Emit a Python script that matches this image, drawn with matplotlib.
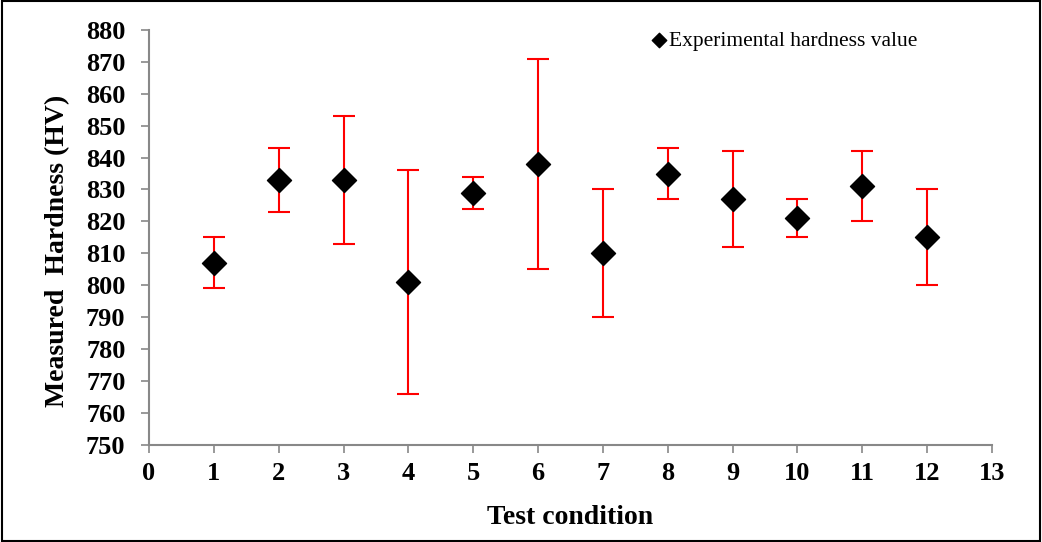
import matplotlib.pyplot as plt
import numpy as np
from matplotlib.patches import Rectangle

# Datos
condicion = [1, 2, 3, 4, 5, 6, 7, 8, 9, 10, 11, 12]
dureza = [807, 833, 833, 801, 829, 838, 810, 835, 827, 821, 831, 815]
error = [8, 10, 20, 35, 5, 33, 20, 8, 15, 6, 11, 15]

plt.rcParams['font.family'] = ['Liberation Serif', 'DejaVu Serif']

fig = plt.figure(figsize=(10.42, 5.42), dpi=100)
ax = fig.add_axes([0.143, 0.179, 0.809, 0.766])

ax.errorbar(condicion, dureza, yerr=error, fmt='none', ecolor='#ff0000',
            elinewidth=1.5, capsize=8, capthick=1.5, zorder=2)
ax.scatter(condicion, dureza, marker='D', s=150, color='black', zorder=3,
           label='Experimental hardness value')

ax.set_xlim(0, 13)
ax.set_ylim(750, 880)
ax.set_xticks(np.arange(0, 14, 1))
ax.set_yticks(np.arange(750, 881, 10))

for s in ['top', 'right']:
    ax.spines[s].set_visible(False)
for s in ['left', 'bottom']:
    ax.spines[s].set_color('#888888')
    ax.spines[s].set_linewidth(1.5)
ax.tick_params(direction='out', length=6, width=1.2, color='#888888',
               labelsize=19)
ax.tick_params(axis='x', pad=6)
ax.tick_params(axis='y', pad=11)
for lab in ax.get_xticklabels() + ax.get_yticklabels():
    lab.set_fontweight('bold')

ax.set_xlabel('Test condition', fontsize=20, fontweight='bold')
ax.set_ylabel('Measured  Hardness (HV)', fontsize=20, fontweight='bold')
ax.xaxis.set_label_coords(0.5, -0.145)
ax.yaxis.set_label_coords(-0.093, 0.467)

ax.legend(loc='upper right', bbox_to_anchor=(0.935, 1.045), frameon=False,
          fontsize=15.5, handletextpad=0.1, handlelength=0.8, markerscale=0.6)

fig.patches.append(Rectangle((0.002, 0.002), 0.996, 0.996, transform=fig.transFigure,
                             fill=False, edgecolor='black', linewidth=1.5))

plt.savefig('out.png', dpi=100)
